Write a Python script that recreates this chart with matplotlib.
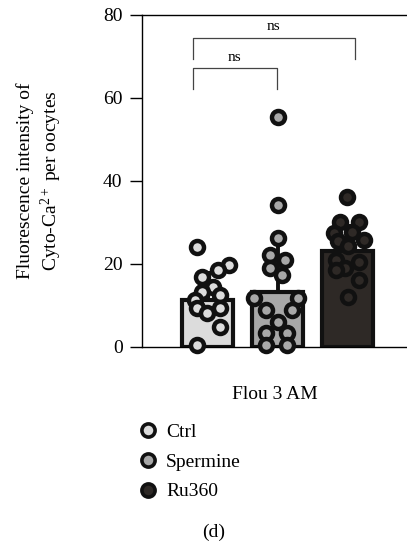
import matplotlib
matplotlib.use("Agg")
from matplotlib import pyplot as plt
from matplotlib.lines import Line2D

plt.rcParams['font.family'] = ['Liberation Serif', 'DejaVu Serif']
plt.rcParams['mathtext.fontset'] = 'custom'
plt.rcParams['mathtext.rm'] = 'Liberation Serif'
plt.rcParams['mathtext.it'] = 'Liberation Serif:italic'

groups = ['Ctrl', 'Spermine', 'Ru360']
means = [11.3, 13.3, 23.1]
sds = [6.5, 13.0, 6.0]
colors = ['#dcdcdc', '#a8a8a8', '#2e2926']

ctrl_vals = [24.0, 19.7, 18.5, 16.9, 14.5, 13.3, 11.3, 12.5, 9.4, 9.4, 8.2, 4.8, 0.5]
ctrl_jit = [-0.15, 0.30, 0.15, -0.08, 0.08, -0.08, -0.18, 0.18, -0.15, 0.18, -0.01, 0.18, -0.15]
sperm_vals = [55.4, 34.2, 26.2, 22.2, 21.0, 19.0, 17.3, 11.8, 11.8, 8.9, 8.9, 6.0, 3.4, 3.4, 0.5, 0.5]
sperm_jit = [0.0, 0.0, 0.0, -0.11, 0.10, -0.11, 0.07, -0.33, 0.29, -0.16, 0.20, 0.0, -0.16, 0.13, -0.16, 0.13]
ru_vals = [36.0, 30.0, 30.0, 27.4, 27.7, 25.8, 25.4, 24.2, 21.0, 20.5, 19.0, 18.5, 16.1, 12.0]
ru_jit = [-0.01, -0.11, 0.16, -0.20, 0.06, 0.23, -0.13, 0.01, -0.16, 0.16, -0.04, -0.16, 0.16, 0.01]

points = [(ctrl_vals, ctrl_jit), (sperm_vals, sperm_jit), (ru_vals, ru_jit)]

fig = plt.figure(figsize=(4.07, 5.47), dpi=100)
ax = fig.add_axes([0.349, 0.366, 0.651, 0.607])

xs = [0, 1, 2]
ax.bar(xs, means, width=0.72, color=colors, edgecolor='#111111', linewidth=3.0, zorder=2)
for x, m, s in zip(xs, means, sds):
    ax.plot([x, x], [m, m + s], color='#111111', lw=2.8, zorder=2.5)
    ax.plot([x - 0.07, x + 0.07], [m + s, m + s], color='#111111', lw=2.8, zorder=2.5)

for x, (vals, jit), c in zip(xs, points, colors):
    ax.scatter([x + j for j in jit], vals, s=88, facecolor=c, edgecolor='#111111',
               linewidth=3.2, zorder=3, clip_on=False)

# significance brackets
def bracket(x1, x2, y, h, label):
    ax.plot([x1, x1, x2, x2], [y - h, y, y, y - h], color='#444444', lw=0.9, clip_on=False)
    ax.text((x1 + x2) / 2, y + 1.0, label, ha='center', va='bottom', fontsize=11)

bracket(-0.21, 0.99, 67.2, 5.0, 'ns')
bracket(-0.21, 2.1, 74.5, 5.1, 'ns')

ax.set_xlim(-0.936, 2.85)
ax.set_ylim(0, 80)
ax.set_yticks([0, 20, 40, 60, 80])
ax.set_xticks([])
ax.tick_params(axis='y', length=9, width=1, labelsize=14, pad=5)
ax.spines['right'].set_visible(False)
for sp in ['left', 'top', 'bottom']:
    ax.spines[sp].set_linewidth(1)

ax.set_xlabel('Flou 3 AM', fontsize=14, labelpad=28)
ax.set_ylabel('Fluorescence intensity of\nCyto-Ca$^{2+}$ per oocytes', fontsize=14, linespacing=1.25)
ax.yaxis.set_label_coords(-0.295, 0.5)

handles = [Line2D([], [], marker='o', ls='', markersize=9.5, markerfacecolor=c,
                  markeredgecolor='#111111', markeredgewidth=2.6) for c in colors]
fig.legend(handles, groups, loc='upper left', bbox_to_anchor=(0.32, 0.24), frameon=False,
           fontsize=14, handletextpad=0.45, labelspacing=0.62, handlelength=1.0, borderaxespad=0)

fig.text(0.525, 0.027, '(d)', ha='center', va='center', fontsize=14)

fig.savefig('out.png', dpi=100)
